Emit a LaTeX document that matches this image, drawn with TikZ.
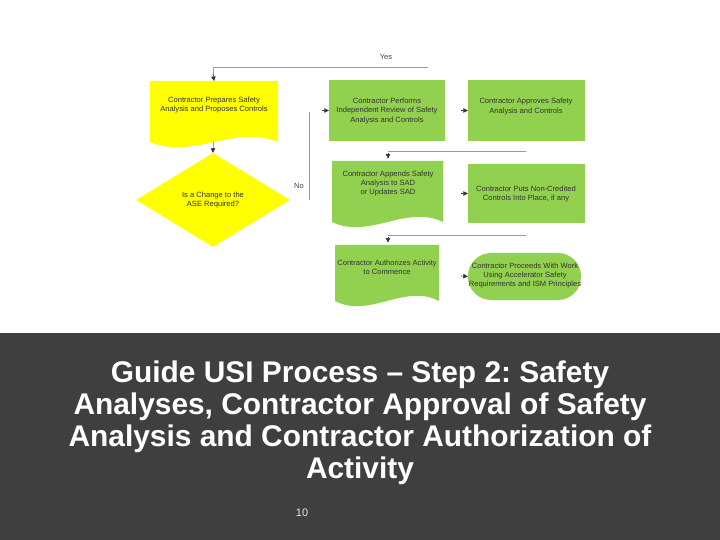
\documentclass[tikz,border=0pt]{standalone}
\usepackage{fontspec}
\setmainfont{Liberation Sans}
\usetikzlibrary{arrows.meta,shapes.geometric}
\frenchspacing
\definecolor{ylw}{HTML}{FFFF00}
\definecolor{grn}{HTML}{92D050}
\definecolor{band}{HTML}{3F3F3F}
\definecolor{lin}{HTML}{9A9A9A}
\definecolor{tip}{HTML}{333333}
\newcommand{\docpath}[5]{% x1 y1 x2 ymid color
  \fill[#5] (#1,#2) -- (#3,#2) -- (#3,#4)
    .. controls ({#3-(#3-#1)/3},{#4-18}) and ({#1+(#3-#1)/3},{#4+18}) .. (#1,#4) -- cycle;}
\tikzset{
  lbl/.style={font=\fontsize{7.6}{9.2}\selectfont, text=black!80, align=center, inner sep=0pt},
  conn/.style={draw=lin, line width=0.8pt},
  tipconn/.style={draw=tip, line width=0.6pt, -{Triangle[length=4.5pt,width=4.5pt]}},
  title/.style={font=\bfseries\fontsize{30}{32}\selectfont, text=white, align=center, inner sep=0pt}
}
\begin{document}
\begin{tikzpicture}[x=1bp,y=-1bp]
\useasboundingbox (0,0) rectangle (720,540);
\fill[white] (0,0) rectangle (720,333);
\fill[band] (0,333) rectangle (720,540);
% shapes
\docpath{150}{81}{278}{142}{ylw}
\node[lbl] (prep) at (214,105) {Contractor Prepares Safety\\Analysis and Proposes Controls};
\node[diamond, fill=ylw, minimum width=154bp, minimum height=94bp, inner sep=0pt, aspect=1.64] (dec) at (213,200) {};
\node[lbl] at (213,200) {Is a Change to the\\ASE Required?};
\node[fill=grn, minimum width=116bp, minimum height=61bp, inner sep=0pt] (rev) at (387,110.5) {};
\node[lbl] at (387,111) {Contractor Performs\\Independent Review of Safety\\Analysis and Controls};
\node[fill=grn, minimum width=117bp, minimum height=61bp, inner sep=0pt] (appr) at (526.5,110.5) {};
\node[lbl] at (526,106.5) {Contractor Approves Safety\\Analysis and Controls};
\docpath{332}{161}{443}{222}{grn}
\node[lbl] (sad) at (388,183.5) {Contractor Appends Safety\\Analysis to SAD\\or Updates SAD};
\coordinate (sadtop) at (388,161);
\node[fill=grn, minimum width=117bp, minimum height=59bp, inner sep=0pt] (nonc) at (526.5,193.5) {};
\node[lbl] at (526,194) {Contractor Puts Non-Credited\\Controls Into Place, if any};
\docpath{335}{245}{439}{301}{grn}
\node[lbl] (auth) at (387,267.5) {Contractor Authorizes Activity\\to Commence};
\coordinate (authtop) at (387,245);
\node[fill=grn, rounded corners=23bp, minimum width=113bp, minimum height=47bp, inner sep=0pt] (proc) at (524.5,276.5) {};
\node[lbl] at (525,275.5) {Contractor Proceeds With Work\\Using Accelerator Safety\\Requirements and ISM Principles};
% connectors
\coordinate (ytop) at (213,67);
\coordinate (yend) at (428,67);
\draw[conn] (yend) -- (ytop) -- (213,76);
\draw[tipconn] (213,74) -- (prep.north |- 0,81);
\node[font=\fontsize{7.6}{8}\selectfont, text=black!75] at (386,57) {Yes};
\draw[conn] (213,142) -- (213,149);
\draw[tipconn] (213,148) -- (dec.north);
\coordinate (nobot) at (309,200);
\coordinate (notop) at (309,112);
\draw[conn] (nobot) -- (notop);
\node[font=\fontsize{7.6}{8}\selectfont, text=black!75] at (299,186) {No};
\draw[tipconn] (322,110.5) -- (rev.west);
\draw[tipconn] (461,110.5) -- (appr.west);
\coordinate (l2a) at (388,151);
\coordinate (l2b) at (526,151);
\draw[conn] (l2b) -- (l2a);
\draw[tipconn] (388,153) -- (388,158.5);
\draw[tipconn] (461,193.5) -- (nonc.west);
\coordinate (l3a) at (388,235);
\coordinate (l3b) at (526,235);
\draw[conn] (l3b) -- (l3a);
\draw[tipconn] (388,237) -- (388,242.5);
\draw[tipconn] (461,276) -- (proc.west);
% title
\node[title, anchor=north] (ttl) at (360,361) {Guide USI Process – Step 2: Safety\\Analyses, Contractor Approval of Safety\\Analysis and Contractor Authorization of\\Activity};
\node[font=\fontsize{11}{12}\selectfont, text=white!90!black] (pg) at (302,513) {10};
\end{tikzpicture}
\end{document}
